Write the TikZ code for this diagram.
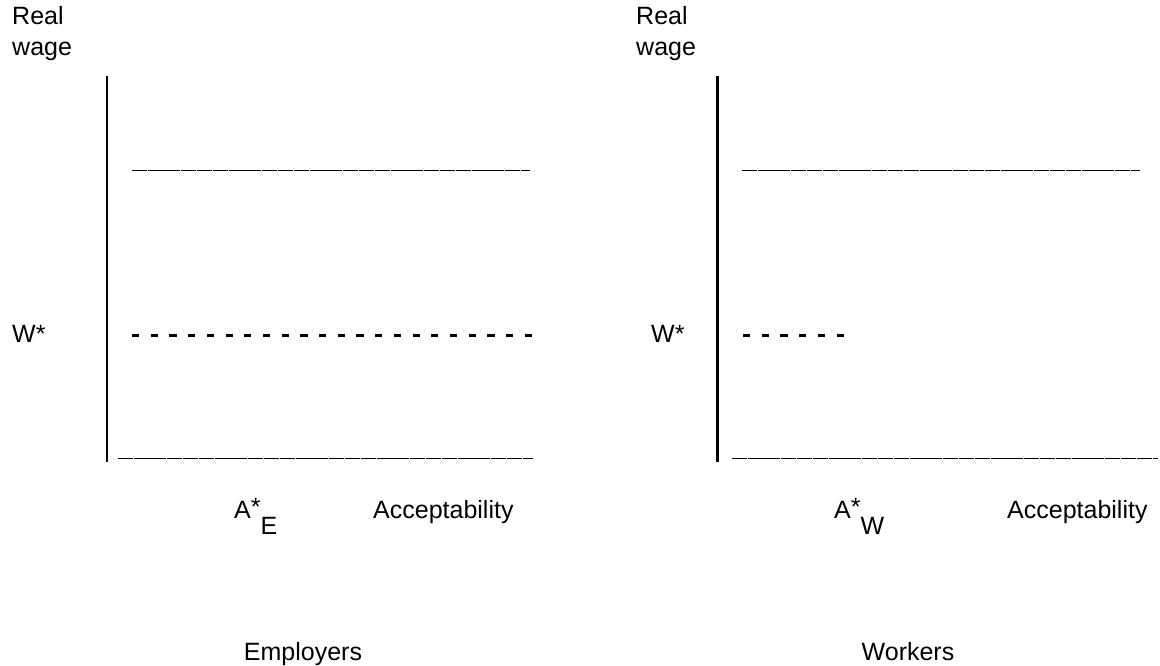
\documentclass[tikz,border=0pt]{standalone}
\usepackage{fontspec}
\setmainfont{Liberation Sans}
\begin{document}
\begin{tikzpicture}[x=1pt,y=-1pt,
  lbl/.style={inner sep=0pt,font=\fontsize{25}{31}\selectfont},
  axisbar/.style={line width=2.8pt},
  uline/.style={line width=1.6pt,dash pattern=on 15.3pt off 0.9pt},
  wdash/.style={line width=2.3pt,dash pattern=on 7.2pt off 11.5pt}]
\useasboundingbox (0,0) rectangle (1160,665);
% ---------- left panel: Employers ----------
\coordinate (L-ytop) at (107,76);
\coordinate (L-ybot) at (107,462);
\draw[axisbar] (L-ytop) -- (L-ybot);
\coordinate (L-t1) at (132,170.5);
\coordinate (L-t2) at (530,170.5);
\draw[uline] (L-t1) -- (L-t2);
\coordinate (L-d1) at (132,335.5);
\coordinate (L-d2) at (533,335.5);
\draw[wdash] (L-d1) -- (L-d2);
\coordinate (L-b1) at (118,458.5);
\coordinate (L-b2) at (533,458.5);
\draw[uline] (L-b1) -- (L-b2);
\node[lbl,anchor=west,align=left] (L-real) at (12,34) {Real\\wage};
\node[lbl,anchor=west] (L-w) at (12,334) {W*};
\node[lbl,anchor=base west] (L-a) at (234,518) {A\raisebox{3pt}{*}\raisebox{-16pt}{E}};
\node[lbl,anchor=base west] (L-acc) at (373,518) {Acceptability};
\node[lbl,anchor=base] (L-emp) at (303,660) {Employers};
% ---------- right panel: Workers ----------
\coordinate (R-ytop) at (717.5,76);
\coordinate (R-ybot) at (717.5,462);
\draw[axisbar] (R-ytop) -- (R-ybot);
\coordinate (R-t1) at (742,170.5);
\coordinate (R-t2) at (1140,170.5);
\draw[uline] (R-t1) -- (R-t2);
\coordinate (R-d1) at (743,335.5);
\coordinate (R-d2) at (850,335.5);
\draw[wdash] (R-d1) -- (R-d2);
\coordinate (R-b1) at (732,458.5);
\coordinate (R-b2) at (1158,458.5);
\draw[uline] (R-b1) -- (R-b2);
\node[lbl,anchor=west,align=left] (R-real) at (636,34) {Real\\wage};
\node[lbl,anchor=west] (R-w) at (651,334) {W*};
\node[lbl,anchor=base west] (R-a) at (834,518) {A\raisebox{3pt}{*}\raisebox{-16pt}{W}};
\node[lbl,anchor=base west] (R-acc) at (1007,518) {Acceptability};
\node[lbl,anchor=base] (R-wor) at (908,660) {Workers};
\end{tikzpicture}
\end{document}
